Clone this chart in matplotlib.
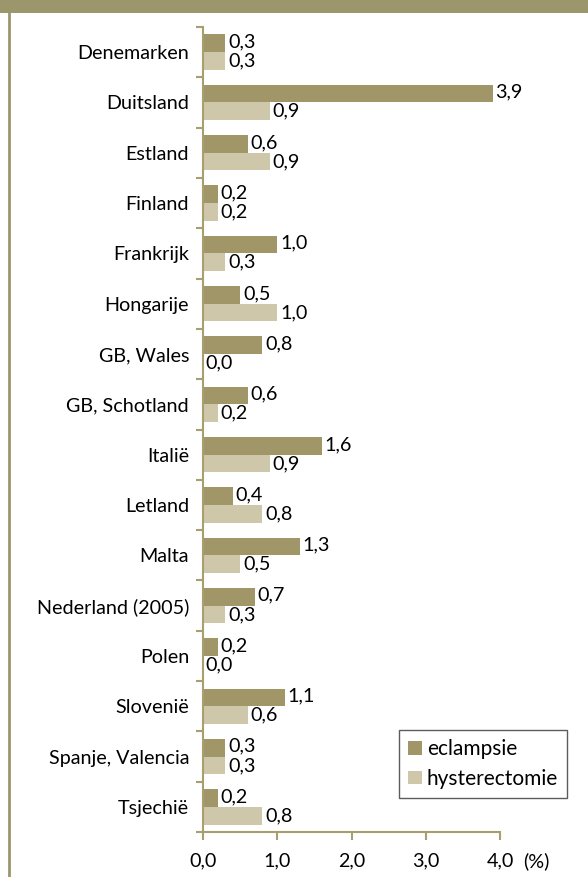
import matplotlib
matplotlib.use("Agg")
import matplotlib.pyplot as plt
import numpy as np
from matplotlib.patches import Rectangle
from matplotlib.lines import Line2D

plt.rcParams['font.family'] = ['Lato', 'DejaVu Sans']

countries = ["Denemarken", "Duitsland", "Estland", "Finland", "Frankrijk", "Hongarije",
             "GB, Wales", "GB, Schotland", "Italië", "Letland", "Malta", "Nederland (2005)",
             "Polen", "Slovenië", "Spanje, Valencia", "Tsjechië"]
eclampsie = [0.3, 3.9, 0.6, 0.2, 1.0, 0.5, 0.8, 0.6, 1.6, 0.4, 1.3, 0.7, 0.2, 1.1, 0.3, 0.2]
hysterectomie = [0.3, 0.9, 0.9, 0.2, 0.3, 1.0, 0.0, 0.2, 0.9, 0.8, 0.5, 0.3, 0.0, 0.6, 0.3, 0.8]
xticks = [0.0, 1.0, 2.0, 3.0, 4.0]
xticklabels = ["0,0", "1,0", "2,0", "3,0", "4,0"]

c_ecl = "#A09668"
c_hys = "#CFC7AA"
c_axis = "#A89F70"
c_band = "#9C966C"
FS = 14.2
LFS = 15

W, H = 588, 877
fig = plt.figure(figsize=(W / 100, H / 100), dpi=100)

# frame decorations
fig.add_artist(Rectangle((0, 1 - 13 / H), 1, 13 / H, transform=fig.transFigure,
                         facecolor=c_band, edgecolor="none"))
fig.add_artist(Line2D([8.5 / W, 8.5 / W], [0, 1 - 13 / H], transform=fig.transFigure,
                      color=c_band, lw=2))

ax = fig.add_axes([203 / W, 1 - 832 / H, (500 - 203) / W, (832 - 27) / H])
y = np.arange(len(countries))
h = 0.352
ax.barh(y - h / 2, eclampsie, height=h, color=c_ecl, label="eclampsie")
ax.barh(y + h / 2, hysterectomie, height=h, color=c_hys, label="hysterectomie")

for yi, v in zip(y, eclampsie):
    ax.annotate(f"{v:.1f}".replace(".", ","), (v, yi - h / 2), xytext=(2, 1),
                textcoords="offset points", va="center", ha="left", fontsize=FS)
for yi, v in zip(y, hysterectomie):
    ax.annotate(f"{v:.1f}".replace(".", ","), (v, yi + h / 2), xytext=(2, 0),
                textcoords="offset points", va="center", ha="left", fontsize=FS)

ax.set_xlim(0, 4.0)
ax.set_ylim(len(countries) - 0.5, -0.5)
ax.set_xticks(xticks)
ax.set_xticklabels(xticklabels, fontsize=FS)
ax.set_yticks(y)
ax.set_yticklabels(countries, fontsize=FS)
ax.tick_params(axis="y", length=0, pad=10)
ax.set_yticks(np.arange(len(countries) + 1) - 0.5, minor=True)
ax.tick_params(axis="y", which="minor", length=5, color=c_axis, width=1.5)
ax.tick_params(axis="x", length=6, color=c_axis, width=1.5, pad=9)
for s in ["top", "right"]:
    ax.spines[s].set_visible(False)
for s in ["left", "bottom"]:
    ax.spines[s].set_color(c_axis)
    ax.spines[s].set_linewidth(1.5)

fig.text(523 / W, 1 - 861 / H, "(%)", fontsize=FS, ha="left", va="center")

leg = fig.legend(loc="upper left", bbox_to_anchor=(399 / W, 1 - 730 / H),
                 bbox_transform=fig.transFigure, fontsize=LFS, frameon=True,
                 fancybox=False, edgecolor="#333333", handlelength=0.63,
                 handleheight=0.63, handletextpad=0.25, borderpad=0.45,
                 labelspacing=0.45, borderaxespad=0)
leg.get_frame().set_linewidth(1.0)

fig.savefig("out.png", dpi=100)
